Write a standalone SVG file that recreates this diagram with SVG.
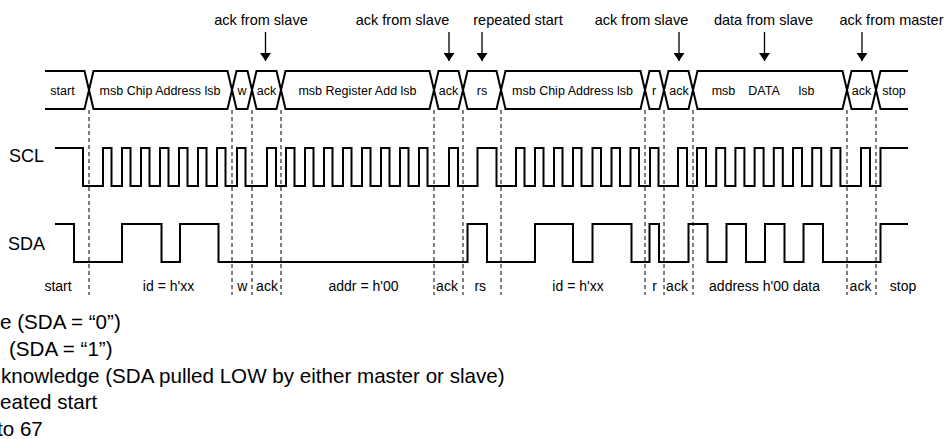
<svg xmlns="http://www.w3.org/2000/svg" width="948" height="439" viewBox="0 0 948 439">
<style>
text{font-family:"Liberation Sans",Arial,sans-serif;fill:#000}
.top{font-size:14.5px;text-anchor:middle}
.bus{font-size:12.5px;text-anchor:middle}
.bot{font-size:14px;text-anchor:middle}
.sig{font-size:18px}
.leg{font-size:20.6px}
.seg{fill:#fff;stroke:#000;stroke-width:2;stroke-linejoin:miter}
.wave{fill:none;stroke:#000;stroke-width:2;stroke-linejoin:miter}
.dash{stroke:#000;stroke-width:1;stroke-dasharray:4 3;fill:none}
.arr{stroke:#000;stroke-width:1.3;fill:none;marker-end:url(#ah)}
</style>
<defs>
<marker id="ah" viewBox="0 0 8 11" refX="8" refY="5.5" markerWidth="8" markerHeight="11" markerUnits="userSpaceOnUse" orient="auto">
<path d="M0,0 L8,5.5 L0,11 Z" fill="#000"/>
</marker>
</defs>
<rect width="948" height="439" fill="#fff"/>

<!-- annotations above -->
<g id="annotations">
<text class="top" x="261" y="25">ack from slave</text>
<text class="top" x="402.5" y="25">ack from slave</text>
<text class="top" x="518" y="25">repeated start</text>
<text class="top" x="641.5" y="25">ack from slave</text>
<text class="top" x="763.5" y="25">data from slave</text>
<text class="top" x="891.5" y="25">ack from master</text>
</g>
<g id="connectors">
<line class="arr" x1="265.5" y1="32" x2="265.5" y2="61"/>
<line class="arr" x1="449" y1="32" x2="449" y2="61"/>
<line class="arr" x1="482" y1="32" x2="482" y2="61"/>
<line class="arr" x1="679" y1="32" x2="679" y2="61"/>
<line class="arr" x1="764.5" y1="32" x2="764.5" y2="61"/>
<line class="arr" x1="862" y1="32" x2="862" y2="61"/>
</g>

<!-- bus segments -->
<g id="bus">
<g id="seg-start"><path class="seg" d="M45,71 H84.5 L89,90 L84.5,109 H45"/><text class="bus" x="62.5" y="94.5">start</text></g>
<g id="seg-chip1"><path class="seg" d="M89,90 L93.5,71 H227.5 L232,90 L227.5,109 H93.5 Z"/><text class="bus" x="160" y="94.5">msb Chip Address lsb</text></g>
<g id="seg-w"><path class="seg" d="M232,90 L236.5,71 H247.5 L252,90 L247.5,109 H236.5 Z"/><text class="bus" x="242" y="94.5">w</text></g>
<g id="seg-ack1"><path class="seg" d="M252,90 L256.5,71 H276.5 L281,90 L276.5,109 H256.5 Z"/><text class="bus" x="266.5" y="94.5">ack</text></g>
<g id="seg-reg"><path class="seg" d="M281,90 L285.5,71 H429.5 L434,90 L429.5,109 H285.5 Z"/><text class="bus" x="357.5" y="94.5">msb Register Add lsb</text></g>
<g id="seg-ack2"><path class="seg" d="M434,90 L438.5,71 H458.5 L463,90 L458.5,109 H438.5 Z"/><text class="bus" x="448.5" y="94.5">ack</text></g>
<g id="seg-rs"><path class="seg" d="M463,90 L467.5,71 H496.5 L501,90 L496.5,109 H467.5 Z"/><text class="bus" x="482" y="94.5">rs</text></g>
<g id="seg-chip2"><path class="seg" d="M501,90 L505.5,71 H640.5 L645,90 L640.5,109 H505.5 Z"/><text class="bus" x="572.5" y="94.5">msb Chip Address lsb</text></g>
<g id="seg-r"><path class="seg" d="M645,90 L649.5,71 H659.5 L664,90 L659.5,109 H649.5 Z"/><text class="bus" x="654" y="94.5">r</text></g>
<g id="seg-ack3"><path class="seg" d="M664,90 L668.5,71 H688.5 L693,90 L688.5,109 H668.5 Z"/><text class="bus" x="679" y="94.5">ack</text></g>
<g id="seg-data"><path class="seg" d="M693,90 L697.5,71 H842.5 L847,90 L842.5,109 H697.5 Z"/><text class="bus" x="723.5" y="94.5">msb</text><text class="bus" x="764" y="94.5">DATA</text><text class="bus" x="806.5" y="94.5">lsb</text></g>
<g id="seg-ack4"><path class="seg" d="M847,90 L851.5,71 H871.5 L876,90 L871.5,109 H851.5 Z"/><text class="bus" x="861.5" y="94.5">ack</text></g>
<g id="seg-stop"><path class="seg" d="M908,71 H880.5 L876,90 L880.5,109 H908"/><text class="bus" x="894" y="94.5">stop</text></g>
</g>

<!-- dashed boundary lines -->
<g id="boundaries">
<line class="dash" x1="89" y1="110" x2="89" y2="295"/>
<line class="dash" x1="232" y1="110" x2="232" y2="295"/>
<line class="dash" x1="252" y1="110" x2="252" y2="295"/>
<line class="dash" x1="281" y1="110" x2="281" y2="295"/>
<line class="dash" x1="434" y1="110" x2="434" y2="295"/>
<line class="dash" x1="463" y1="110" x2="463" y2="295"/>
<line class="dash" x1="501" y1="110" x2="501" y2="295"/>
<line class="dash" x1="645" y1="110" x2="645" y2="295"/>
<line class="dash" x1="664" y1="110" x2="664" y2="295"/>
<line class="dash" x1="693" y1="110" x2="693" y2="295"/>
<line class="dash" x1="847" y1="110" x2="847" y2="295"/>
<line class="dash" x1="876" y1="110" x2="876" y2="295"/>
</g>

<!-- SCL -->
<g id="scl">
<text class="sig" x="9" y="162">SCL</text>
<path class="wave" d="M55,148 H83 V186
H103 V148 H111.5 V186 H122 V148 H130.5 V186 H141 V148 H149.5 V186 H160 V148 H168.5 V186 H179 V148 H187.5 V186 H198 V148 H206.5 V186 H217 V148 H225.5 V186
H237 V148 H245.5 V186
H267 V148 H276 V186
H286 V148 H294.5 V186 H305 V148 H313.5 V186 H324 V148 H332.5 V186 H343 V148 H351.5 V186 H362 V148 H370.5 V186 H381 V148 H389.5 V186 H400 V148 H408.5 V186 H419 V148 H427.5 V186
H449 V148 H458 V186
H477.5 V148 H496.5 V186
H516 V148 H524.5 V186 H535 V148 H543.5 V186 H554 V148 H562.5 V186 H573 V148 H581.5 V186 H592.5 V148 H601 V186 H611.5 V148 H620 V186 H630.5 V148 H639 V186
H650 V148 H658.5 V186
H678 V148 H687 V186
H697 V148 H706 V186 H716.2 V148 H725.2 V186 H735.4 V148 H744.4 V186 H754.6 V148 H763.6 V186 H773.8 V148 H782.8 V186 H793 V148 H802 V186 H812.2 V148 H821.2 V186 H831.4 V148 H840.4 V186
H861 V148 H870 V186
H880.5 V148 H908"/>
</g>

<!-- SDA -->
<g id="sda">
<text class="sig" x="8" y="250">SDA</text>
<path class="wave" d="M55,224 H74 V262 H122 V224 H161.5 V262 H180 V224 H218.5 V262 H467.5 V224 H487 V262 H535 V224 H573 V262 H592.5 V224 H631.5 V262 H649.5 V224 H659 V262 H688.5 V224 H707.5 V262 H726.5 V224 H746 V262 H765 V224 H784.5 V262 H803.5 V224 H823 V262 H880.5 V224 H908"/>
</g>

<!-- bottom labels -->
<g id="field-labels">
<text class="bot" x="58" y="291">start</text>
<text class="bot" x="168.5" y="291">id = h'xx</text>
<text class="bot" x="242.3" y="291">w</text>
<text class="bot" x="267" y="291">ack</text>
<text class="bot" x="363.5" y="291">addr = h'00</text>
<text class="bot" x="447" y="291">ack</text>
<text class="bot" x="480.3" y="291">rs</text>
<text class="bot" x="578" y="291">id = h'xx</text>
<text class="bot" x="654.7" y="291">r</text>
<text class="bot" x="677" y="291">ack</text>
<text class="bot" x="764.5" y="291">address h'00 data</text>
<text class="bot" x="860.5" y="291">ack</text>
<text class="bot" x="903" y="291">stop</text>
</g>

<!-- legend (clipped at left edge, as in the picture) -->
<g id="legend">
<text class="leg" x="0" y="329">e (SDA = “0”)</text>
<text class="leg" x="9" y="356">(SDA = “1”)</text>
<text class="leg" x="1" y="383">knowledge (SDA pulled LOW by either master or slave)</text>
<text class="leg" x="0" y="409">eated start</text>
<text class="leg" x="-3" y="436">to 67</text>
</g>
</svg>
